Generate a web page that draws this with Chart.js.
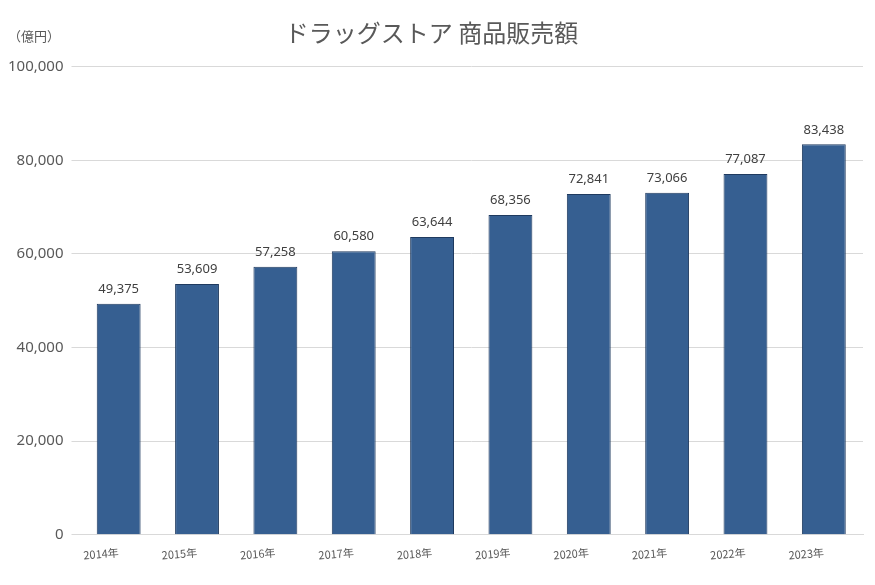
<!DOCTYPE html>
<html>
<head>
<meta charset="utf-8">
<script src="https://cdn.jsdelivr.net/npm/chart.js@4"></script>
<style>
  body { margin: 0; background: #fff; }
  #wrap { position: relative; width: 875px; height: 585px; }
  #unit { position: absolute; left: 8px; top: 26px; font: 13px "Noto Sans CJK JP", sans-serif; color: #595959; }
</style>
</head>
<body>
<div id="wrap">
  <div id="unit">（億円）</div>
  <canvas id="salesChart" width="875" height="585"></canvas>
</div>
<script>
const years = ["2014年", "2015年", "2016年", "2017年", "2018年", "2019年", "2020年", "2021年", "2022年", "2023年"];
const sales = [49375, 53609, 57258, 60580, 63644, 68356, 72841, 73066, 77087, 83438];

const valueLabels = {
  id: "valueLabels",
  afterDatasetsDraw(chart) {
    const c = chart.ctx;
    const meta = chart.getDatasetMeta(0);
    c.save();
    c.font = '13px "Noto Sans", sans-serif';
    c.fillStyle = "#404040";
    c.textAlign = "center";
    c.textBaseline = "bottom";
    meta.data.forEach((bar, i) => {
      c.fillText(sales[i].toLocaleString("en-US"), bar.x, bar.y - 8);
    });
    c.restore();
  }
};

new Chart(document.getElementById("salesChart"), {
  type: "bar",
  data: {
    labels: years,
    datasets: [{
      data: sales,
      backgroundColor: "#365F91",
      borderColor: "#1F3A5F",
      borderWidth: 1,
      barPercentage: 0.56,
      categoryPercentage: 1
    }]
  },
  options: {
    responsive: false,
    animation: false,
    layout: { padding: { left: 0, right: 12, top: 12, bottom: 20 } },
    plugins: {
      legend: { display: false },
      tooltip: { enabled: false },
      title: {
        display: true,
        text: "ドラッグストア 商品販売額",
        color: "#595959",
        font: { family: "Noto Sans CJK JP", size: 24, weight: "normal" },
        padding: { top: 6, bottom: 20 }
      }
    },
    scales: {
      x: {
        grid: { display: false },
        border: { color: "#d9d9d9" },
        ticks: {
          color: "#595959",
          font: { family: "Noto Sans CJK JP", size: 11 },
          minRotation: 5,
          maxRotation: 5
        }
      },
      y: {
        min: 0,
        max: 100000,
        ticks: {
          stepSize: 20000,
          color: "#595959",
          font: { family: "Noto Sans", size: 15 },
          padding: 8,
          callback: v => v.toLocaleString("en-US")
        },
        grid: { color: "#d9d9d9" },
        border: { display: false }
      }
    }
  },
  plugins: [valueLabels]
});
</script>
</body>
</html>
